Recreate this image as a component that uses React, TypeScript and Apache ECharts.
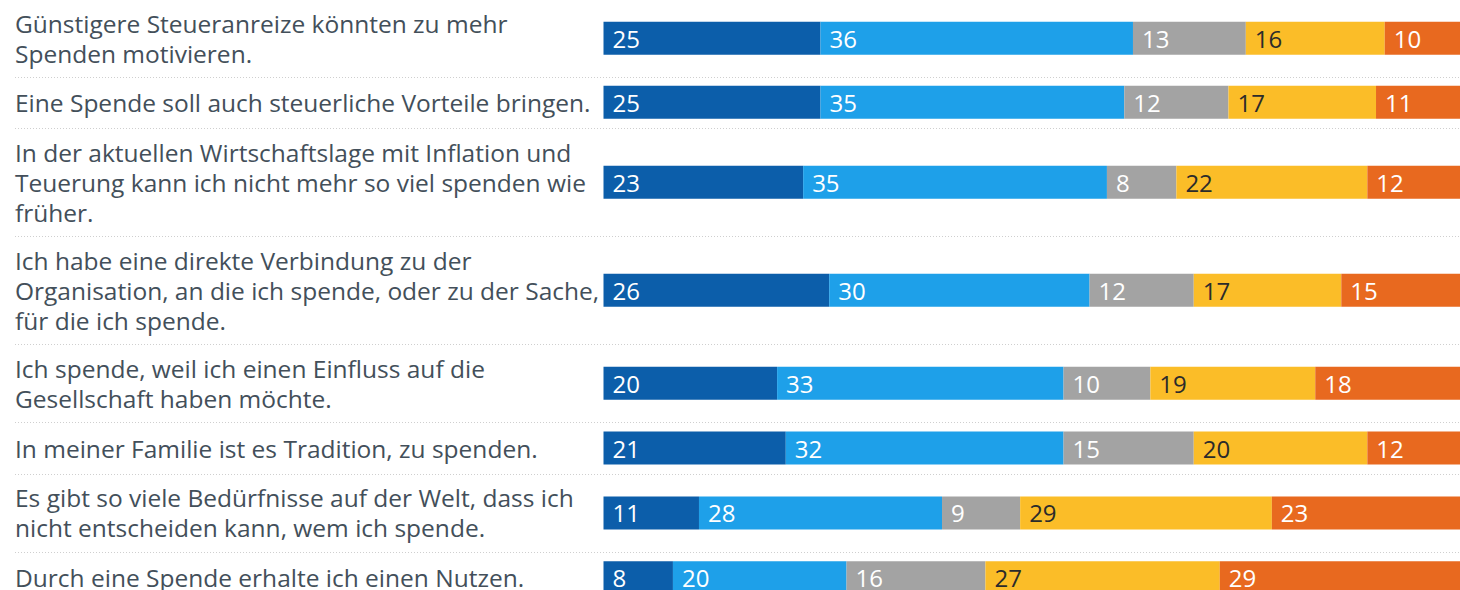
import React, { useEffect, useRef } from "react";
import * as echarts from "echarts";

// ---- Data ----
const CATEGORIES: string[] = [
  "Günstigere Steueranreize könnten zu mehr\nSpenden motivieren.",
  "Eine Spende soll auch steuerliche Vorteile bringen.",
  "In der aktuellen Wirtschaftslage mit Inflation und\nTeuerung kann ich nicht mehr so viel spenden wie\nfrüher.",
  "Ich habe eine direkte Verbindung zu der\nOrganisation, an die ich spende, oder zu der Sache,\nfür die ich spende.",
  "Ich spende, weil ich einen Einfluss auf die\nGesellschaft haben möchte.",
  "In meiner Familie ist es Tradition, zu spenden.",
  "Es gibt so viele Bedürfnisse auf der Welt, dass ich\nnicht entscheiden kann, wem ich spende.",
  "Durch eine Spende erhalte ich einen Nutzen.",
];

const SERIES_NAMES: string[] = [
  "Trifft voll zu",
  "Trifft eher zu",
  "Weiß nicht",
  "Trifft eher nicht zu",
  "Trifft gar nicht zu",
];

const VALUES_1: number[] = [25, 25, 23, 26, 20, 21, 11, 8];
const VALUES_2: number[] = [36, 35, 35, 30, 33, 32, 28, 20];
const VALUES_3: number[] = [13, 12, 8, 12, 10, 15, 9, 16];
const VALUES_4: number[] = [16, 17, 22, 17, 19, 20, 29, 27];
const VALUES_5: number[] = [10, 11, 12, 15, 18, 12, 23, 29];

// ---- Styles / layout ----
const COLORS = ["#0c5eaa", "#1ea0e9", "#a3a3a3", "#fbbd28", "#e8691f"];
const LABEL_COLORS = ["#ffffff", "#ffffff", "#ffffff", "#2b2b2b", "#ffffff"];
const FONT = "'Open Sans', 'Noto Sans', sans-serif";
const TEXT_COLOR = "#434f5a";
const ROW_HEIGHT_BY_LINES: Record<number, number> = { 1: 51.7, 2: 78, 3: 108 };
const START_Y = -1.5;
const GRID_LEFT = 603.5;
const GRID_WIDTH = 868;
const LABEL_LEFT = 15;
const BAR_WIDTH = 33;
const CANVAS_W = 1490; // drawing surface is wider/taller than the 1460x590 view, cropped like the reference
const CANVAS_H = 620;

export default function App() {
  const ref = useRef<HTMLDivElement>(null);

  useEffect(() => {
    document.body.style.margin = "0";
    document.body.style.overflow = "hidden";
    if (!ref.current) return;
    const chart = echarts.init(ref.current, undefined, { renderer: "svg" });
    const allValues = [VALUES_1, VALUES_2, VALUES_3, VALUES_4, VALUES_5];

    const grids: any[] = [];
    const xAxes: any[] = [];
    const yAxes: any[] = [];
    const series: any[] = [];
    const graphics: any[] = [];

    let y = START_Y;
    CATEGORIES.forEach((cat, i) => {
      const lines = cat.split("\n").length;
      const h = ROW_HEIGHT_BY_LINES[lines];
      grids.push({ left: GRID_LEFT, top: y, width: GRID_WIDTH, height: h, containLabel: false });
      xAxes.push({
        type: "value",
        gridIndex: i,
        min: 0,
        max: 100,
        show: false,
      });
      yAxes.push({
        type: "category",
        gridIndex: i,
        data: [cat],
        axisLine: { show: false },
        axisTick: { show: false },
        splitLine: { show: false },
        axisLabel: {
          show: true,
          align: "left",
          margin: GRID_LEFT - LABEL_LEFT,
          fontFamily: FONT,
          fontSize: 24.5,
          lineHeight: 30,
          color: TEXT_COLOR,
        },
      });
      allValues.forEach((vals, k) => {
        series.push({
          type: "bar",
          name: SERIES_NAMES[k],
          xAxisIndex: i,
          yAxisIndex: i,
          stack: "row" + i,
          barWidth: BAR_WIDTH,
          data: [vals[i]],
          itemStyle: { color: COLORS[k] },
          label: {
            show: true,
            position: "insideLeft",
            distance: 9,
            fontFamily: FONT,
            fontSize: 24,
            color: LABEL_COLORS[k],
            formatter: (p: any) => String(p.value),
          },
          emphasis: { disabled: true },
        });
      });
      y += h;
      if (i < CATEGORIES.length - 1) {
        graphics.push({
          type: "line",
          shape: { x1: LABEL_LEFT, y1: Math.round(y) + 0.5, x2: CANVAS_W, y2: Math.round(y) + 0.5 },
          style: { stroke: "#cfcfcf", lineWidth: 1, lineDash: [1, 2] },
          silent: true,
        });
      }
    });

    chart.setOption({
      animation: false,
      backgroundColor: "#ffffff",
      grid: grids,
      xAxis: xAxes,
      yAxis: yAxes,
      series,
      graphic: graphics,
      tooltip: { show: false },
    });

    return () => chart.dispose();
  }, []);

  return (
    <div style={{ position: "fixed", left: 0, top: 0, width: 1460, height: 590, overflow: "hidden" }}>
      <div ref={ref} style={{ width: CANVAS_W, height: CANVAS_H }} />
    </div>
  );
}
